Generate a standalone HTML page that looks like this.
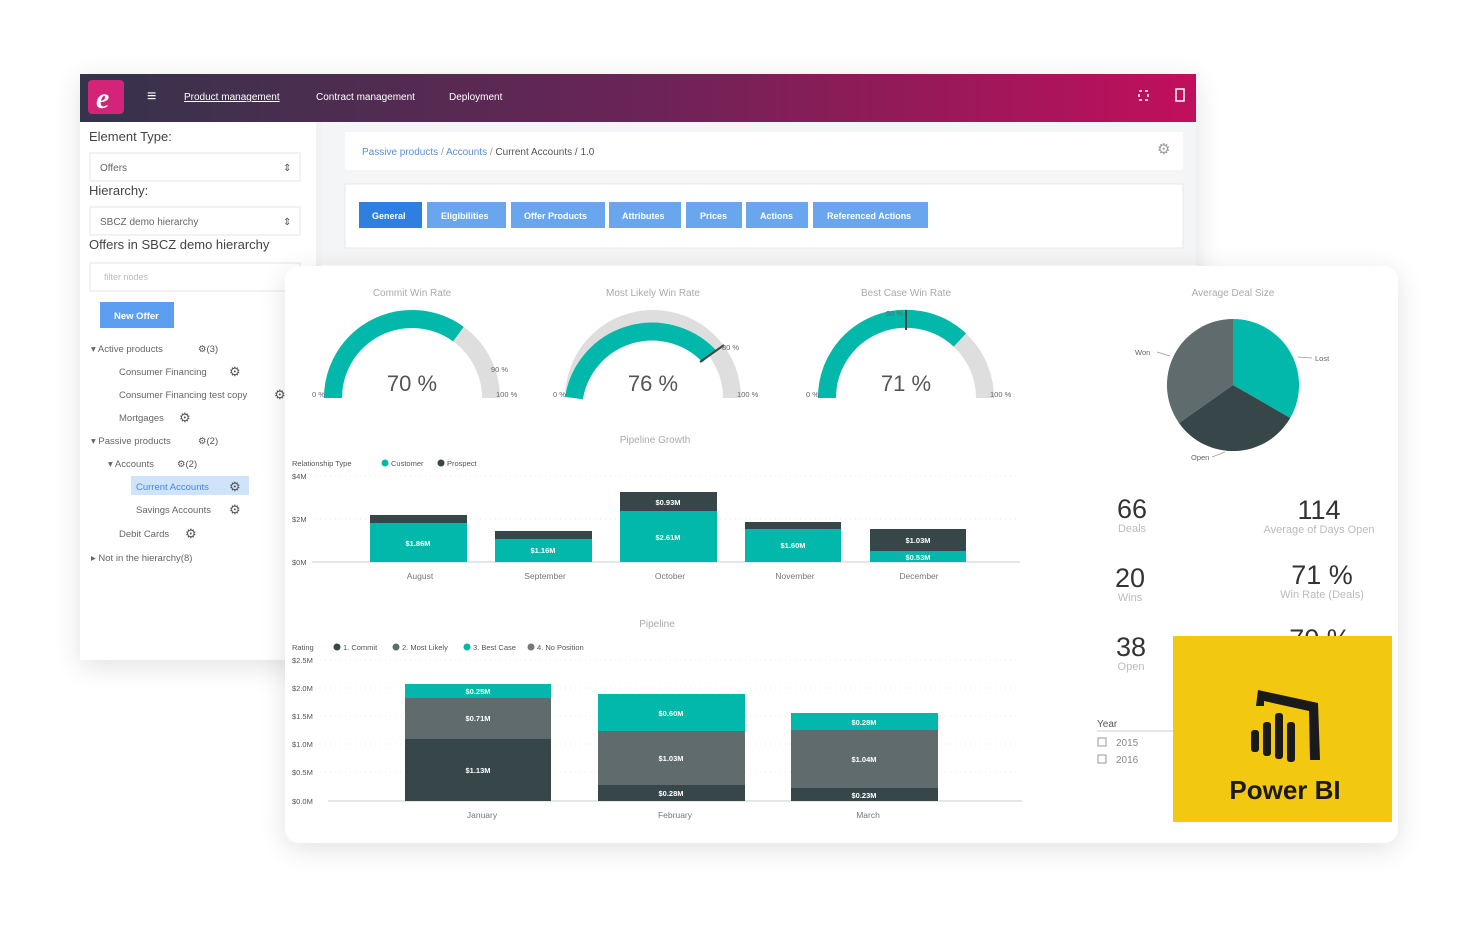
<!DOCTYPE html>
<html><head><meta charset="utf-8"><style>
html,body{margin:0;padding:0;background:#fff;width:1478px;height:944px;overflow:hidden}
svg{display:block;font-family:"Liberation Sans",sans-serif}
</style></head><body>
<svg width="1478" height="944" viewBox="0 0 1478 944">
<defs>
<linearGradient id="hd" x1="0" x2="1"><stop offset="0" stop-color="#34344c"/><stop offset="0.5" stop-color="#6a2456"/><stop offset="1" stop-color="#c10f5c"/></linearGradient>
<filter id="sh" x="-10%" y="-10%" width="120%" height="125%"><feGaussianBlur in="SourceAlpha" stdDeviation="14"/><feOffset dy="6"/><feComponentTransfer><feFuncA type="linear" slope="0.12"/></feComponentTransfer><feMerge><feMergeNode/><feMergeNode in="SourceGraphic"/></feMerge></filter>
</defs>
<!-- back window -->
<rect x="80" y="74" width="1116" height="586" fill="#fff" filter="url(#sh)"/>
<rect x="80" y="74" width="1116" height="48" fill="url(#hd)"/>
<rect x="88" y="80" width="36" height="34" rx="4" fill="#d4247a"/>
<text x="96" y="108" font-size="30" font-style="italic" font-weight="bold" fill="#fff" font-family="Liberation Serif,serif">e</text>
<text x="147" y="101" font-size="16" fill="#fff">≡</text>
<text x="184" y="100" font-size="10" fill="#fff" text-decoration="underline">Product management</text>
<text x="316" y="100" font-size="10" fill="#fff">Contract management</text>
<text x="449" y="100" font-size="10" fill="#fff">Deployment</text>
<rect x="1139" y="91" width="9" height="9" fill="none" stroke="#fff" stroke-width="1.5" stroke-dasharray="3 3"/>
<rect x="1176" y="89" width="8" height="12" fill="none" stroke="#fff" stroke-width="1.5"/>
<!-- left panel -->
<text x="89" y="141" font-size="13" fill="#444">Element Type:</text>
<rect x="90" y="153" width="210" height="28" fill="#fff" stroke="#e5e5e5"/>
<text x="100" y="171" font-size="10" fill="#666">Offers</text><text x="283" y="171" font-size="10" fill="#555">⇕</text>
<text x="89" y="195" font-size="13" fill="#444">Hierarchy:</text>
<rect x="90" y="207" width="210" height="28" fill="#fff" stroke="#e5e5e5"/>
<text x="100" y="225" font-size="10" fill="#666">SBCZ demo hierarchy</text><text x="283" y="225" font-size="10" fill="#555">⇕</text>
<text x="89" y="249" font-size="13" fill="#444">Offers in SBCZ demo hierarchy</text>
<rect x="90" y="263" width="210" height="28" fill="#fff" stroke="#e5e5e5"/>
<text x="104" y="280" font-size="9" fill="#bbb">filter nodes</text>
<rect x="100" y="302" width="74" height="26" fill="#5c9ef0"/>
<text x="114" y="319" font-size="9.5" fill="#fff" font-weight="bold">New Offer</text>
<g font-size="9.5" fill="#666">
<text x="91" y="352">▾ Active products</text><text x="198" y="352" fill="#555">⚙(3)</text>
<text x="119" y="375">Consumer Financing</text><text x="229" y="376" fill="#555" font-size="13">⚙</text>
<text x="119" y="398">Consumer Financing test copy</text><text x="274" y="399" fill="#555" font-size="13">⚙</text>
<text x="119" y="421">Mortgages</text><text x="179" y="422" fill="#555" font-size="13">⚙</text>
<text x="91" y="444">▾ Passive products</text><text x="198" y="444" fill="#555">⚙(2)</text>
<text x="108" y="467">▾ Accounts</text><text x="177" y="467" fill="#555">⚙(2)</text>
<rect x="131" y="476" width="118" height="19" fill="#cfe3fb"/>
<text x="136" y="490" fill="#4a86d8">Current Accounts</text><text x="229" y="491" fill="#555" font-size="13">⚙</text>
<text x="136" y="513">Savings Accounts</text><text x="229" y="514" fill="#555" font-size="13">⚙</text>
<text x="119" y="537">Debit Cards</text><text x="185" y="538" fill="#555" font-size="13">⚙</text>
<text x="91" y="561">▸ Not in the hierarchy(8)</text>
</g>
<rect x="316" y="122" width="6" height="538" fill="#f3f3f3"/>
<rect x="322" y="122" width="874" height="143" fill="#f4f5f7"/>
<rect x="345" y="132" width="838" height="38" fill="#fff"/>
<text x="362" y="155" font-size="10" fill="#5a8fd8">Passive products <tspan fill="#999">/</tspan> Accounts <tspan fill="#999">/</tspan> <tspan fill="#555">Current Accounts  /  1.0</tspan></text>
<text x="1157" y="154" font-size="15" fill="#999">⚙</text>
<rect x="345" y="184" width="838" height="64" fill="#fff" stroke="#e8e8e8"/>
<g font-size="9" font-weight="bold" fill="#fff">
<rect x="359" y="202" width="63" height="26" fill="#2f7fe0"/><text x="372" y="219">General</text>
<rect x="427" y="202" width="79" height="26" fill="#6aa6ee"/><text x="441" y="219">Eligibilities</text>
<rect x="511" y="202" width="94" height="26" fill="#6aa6ee"/><text x="524" y="219">Offer Products</text>
<rect x="609" y="202" width="72" height="26" fill="#6aa6ee"/><text x="622" y="219">Attributes</text>
<rect x="686" y="202" width="56" height="26" fill="#6aa6ee"/><text x="700" y="219">Prices</text>
<rect x="746" y="202" width="62" height="26" fill="#6aa6ee"/><text x="760" y="219">Actions</text>
<rect x="813" y="202" width="115" height="26" fill="#6aa6ee"/><text x="827" y="219">Referenced Actions</text>
</g>
<!-- power bi card -->
<rect x="285" y="266" width="1113" height="577" rx="14" fill="#fff" filter="url(#sh)"/>
<g font-size="10" fill="#aaa" text-anchor="middle">
<text x="412" y="296">Commit Win Rate</text>
<text x="653" y="296">Most Likely Win Rate</text>
<text x="906" y="296">Best Case Win Rate</text>
<text x="1233" y="296">Average Deal Size</text>
</g>
<!-- gauges -->
<g fill="none" stroke-width="18">
<path d="M333 398 A79 79 0 0 1 491 398" stroke="#dedede"/>
<path d="M333 398 A79 79 0 0 1 458.4 334.1" stroke="#01b8aa"/>
<path d="M574 398 A79 79 0 0 1 732 398" stroke="#dedede"/>
<path d="M574 398 A79 79 0 0 1 709 355.9" stroke="#01b8aa"/>
<path d="M827 398 A79 79 0 0 1 985 398" stroke="#dedede"/>
<path d="M827 398 A79 79 0 0 1 959.9 340" stroke="#01b8aa"/>
</g>
<line x1="700" y1="362" x2="724" y2="345" stroke="#444" stroke-width="2"/>
<line x1="906" y1="310" x2="906" y2="330" stroke="#444" stroke-width="2"/>
<g font-size="22" fill="#555" text-anchor="middle">
<text x="412" y="391">70 %</text><text x="653" y="391">76 %</text><text x="906" y="391">71 %</text>
</g>
<g font-size="7.5" fill="#666">
<text x="312" y="397">0 %</text><text x="496" y="397">100 %</text><text x="491" y="372">90 %</text>
<text x="553" y="397">0 %</text><text x="737" y="397">100 %</text><text x="722" y="350">80 %</text>
<text x="806" y="397">0 %</text><text x="990" y="397">100 %</text><text x="886" y="316">50 %</text>
</g>
<!-- pie -->
<path d="M1233 385 L1233 319 A66 66 0 0 1 1290.2 418 Z" fill="#01b8aa"/>
<path d="M1233 385 L1290.2 418 A66 66 0 0 1 1179 423 Z" fill="#374649"/>
<path d="M1233 385 L1179 423 A66 66 0 0 1 1233 319 Z" fill="#5f6b6d"/>
<g font-size="7.5" fill="#666"><text x="1135" y="355">Won</text><text x="1315" y="361">Lost</text><text x="1191" y="460">Open</text></g>
<g stroke="#999" stroke-width="0.7"><line x1="1157" y1="352" x2="1170" y2="356"/><line x1="1298" y1="357" x2="1312" y2="358"/><line x1="1212" y1="457" x2="1225" y2="452"/></g>
<!-- KPIs -->
<g text-anchor="middle">
<text x="1132" y="518" font-size="27" fill="#333">66</text><text x="1132" y="532" font-size="11" fill="#bbb">Deals</text>
<text x="1319" y="519" font-size="27" fill="#333">114</text><text x="1319" y="533" font-size="11" fill="#bbb">Average of Days Open</text>
<text x="1130" y="587" font-size="27" fill="#333">20</text><text x="1130" y="601" font-size="11" fill="#bbb">Wins</text>
<text x="1322" y="584" font-size="27" fill="#333">71 %</text><text x="1322" y="598" font-size="11" fill="#bbb">Win Rate (Deals)</text>
<text x="1131" y="656" font-size="27" fill="#333">38</text><text x="1131" y="670" font-size="11" fill="#bbb">Open</text>
<text x="1320" y="648" font-size="27" fill="#333">70 %</text>
</g>
<text x="1097" y="727" font-size="10" fill="#555">Year</text>
<line x1="1097" y1="731" x2="1175" y2="731" stroke="#ccc"/>
<rect x="1098" y="738" width="8" height="8" fill="none" stroke="#999"/><text x="1116" y="746" font-size="10" fill="#888">2015</text>
<rect x="1098" y="755" width="8" height="8" fill="none" stroke="#999"/><text x="1116" y="763" font-size="10" fill="#888">2016</text>
<!-- power bi yellow -->
<rect x="1173" y="636" width="219" height="186" fill="#f2c811"/>
<g fill="#1a1a1a">
<path d="M1258 690 L1318 703 L1320 760 L1310 760 L1309 711 L1264 701 L1264 706 L1256 706 Z"/>
<rect x="1251" y="730" width="8" height="22" rx="3"/>
<rect x="1263" y="722" width="8" height="34" rx="3"/>
<rect x="1275" y="713" width="8" height="46" rx="3"/>
<rect x="1287" y="722" width="8" height="40" rx="3"/>
</g>
<text x="1285" y="799" font-size="26" font-weight="bold" fill="#1a1a1a" text-anchor="middle">Power BI</text>
<!-- pipeline growth -->
<text x="655" y="443" font-size="10" fill="#aaa" text-anchor="middle">Pipeline Growth</text>
<g font-size="7.5" fill="#555">
<text x="292" y="466">Relationship Type</text>
<circle cx="385" cy="463" r="3.5" fill="#01b8aa"/><text x="391" y="466">Customer</text>
<circle cx="441" cy="463" r="3.5" fill="#374649"/><text x="447" y="466">Prospect</text>
<text x="292" y="479">$4M</text><text x="292" y="522">$2M</text><text x="292" y="565">$0M</text>
</g>
<g stroke="#e4e4e4" stroke-dasharray="1 4"><line x1="315" y1="476" x2="1020" y2="476"/><line x1="315" y1="519" x2="1020" y2="519"/></g>
<line x1="312" y1="562" x2="1020" y2="562" stroke="#ccc"/>
<g fill="#374649"><rect x="370" y="515" width="97" height="8"/><rect x="495" y="531" width="97" height="8"/><rect x="620" y="492" width="97" height="19"/><rect x="745" y="522" width="96" height="7"/><rect x="870" y="529" width="96" height="22"/></g>
<g fill="#01b8aa"><rect x="370" y="523" width="97" height="39"/><rect x="495" y="539" width="97" height="23"/><rect x="620" y="511" width="97" height="51"/><rect x="745" y="529" width="96" height="33"/><rect x="870" y="551" width="96" height="11"/></g>
<g font-size="7.5" fill="#fff" text-anchor="middle" font-weight="bold">
<text x="418" y="546">$1.86M</text><text x="543" y="553">$1.16M</text><text x="668" y="540">$2.61M</text><text x="668" y="505">$0.93M</text><text x="793" y="548">$1.60M</text><text x="918" y="543">$1.03M</text><text x="918" y="560">$0.53M</text>
</g>
<g font-size="8.5" fill="#777" text-anchor="middle">
<text x="420" y="579">August</text><text x="545" y="579">September</text><text x="670" y="579">October</text><text x="795" y="579">November</text><text x="919" y="579">December</text>
</g>
<!-- pipeline -->
<text x="657" y="627" font-size="10" fill="#aaa" text-anchor="middle">Pipeline</text>
<g font-size="7.5" fill="#555">
<text x="292" y="650">Rating</text>
<circle cx="337" cy="647" r="3.5" fill="#374649"/><text x="343" y="650">1. Commit</text>
<circle cx="396" cy="647" r="3.5" fill="#5f6b6d"/><text x="402" y="650">2. Most Likely</text>
<circle cx="467" cy="647" r="3.5" fill="#01b8aa"/><text x="473" y="650">3. Best Case</text>
<circle cx="531" cy="647" r="3.5" fill="#777"/><text x="537" y="650">4. No Position</text>
<text x="292" y="663">$2.5M</text><text x="292" y="691">$2.0M</text><text x="292" y="719">$1.5M</text><text x="292" y="747">$1.0M</text><text x="292" y="775">$0.5M</text><text x="292" y="804">$0.0M</text>
</g>
<g stroke="#e4e4e4" stroke-dasharray="1 4"><line x1="320" y1="660" x2="1020" y2="660"/><line x1="320" y1="688" x2="1020" y2="688"/><line x1="320" y1="716" x2="1020" y2="716"/><line x1="320" y1="744" x2="1020" y2="744"/><line x1="320" y1="772" x2="1020" y2="772"/></g>
<line x1="328" y1="801" x2="1022" y2="801" stroke="#ccc"/>
<g fill="#01b8aa"><rect x="405" y="684" width="146" height="14"/><rect x="598" y="694" width="147" height="37"/><rect x="791" y="713" width="147" height="17"/></g>
<g fill="#5f6b6d"><rect x="405" y="698" width="146" height="41"/><rect x="598" y="731" width="147" height="54"/><rect x="791" y="730" width="147" height="58"/></g>
<g fill="#374649"><rect x="405" y="739" width="146" height="62"/><rect x="598" y="785" width="147" height="16"/><rect x="791" y="788" width="147" height="13"/></g>
<g font-size="7.5" fill="#fff" text-anchor="middle" font-weight="bold">
<text x="478" y="694">$0.25M</text><text x="478" y="721">$0.71M</text><text x="478" y="773">$1.13M</text>
<text x="671" y="716">$0.60M</text><text x="671" y="761">$1.03M</text><text x="671" y="796">$0.28M</text>
<text x="864" y="725">$0.28M</text><text x="864" y="762">$1.04M</text><text x="864" y="798">$0.23M</text>
</g>
<g font-size="8.5" fill="#777" text-anchor="middle"><text x="482" y="818">January</text><text x="675" y="818">February</text><text x="868" y="818">March</text></g>
</svg>
</body></html>
